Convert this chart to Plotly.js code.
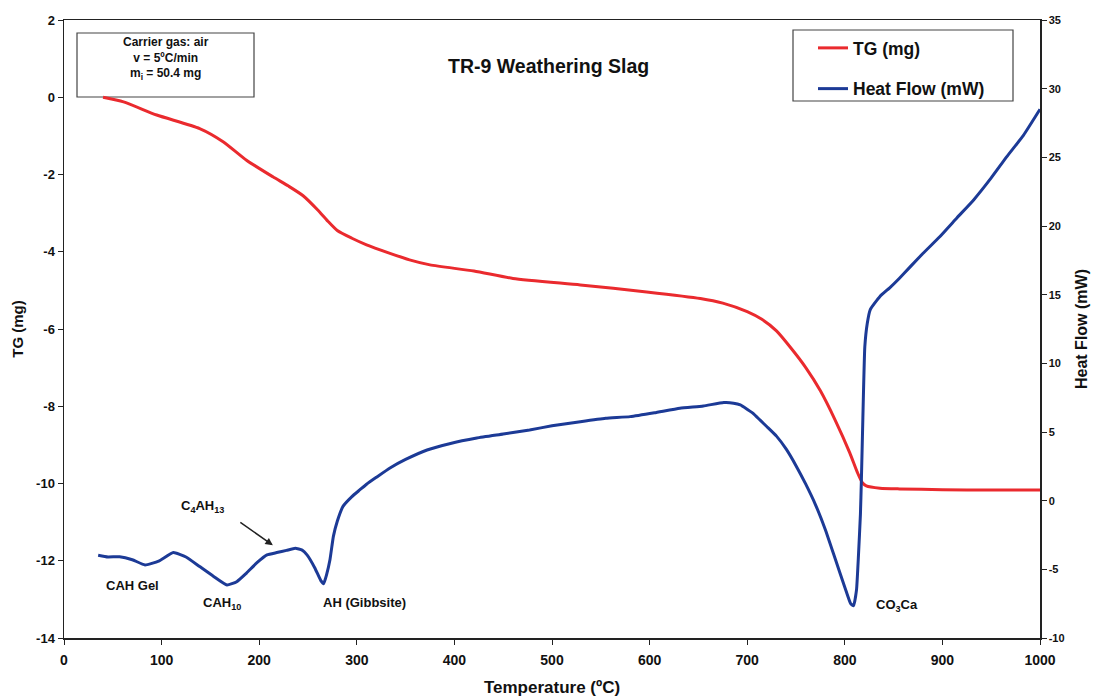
<!DOCTYPE html>
<html>
<head>
<meta charset="utf-8">
<script src="https://cdn.plot.ly/plotly-3.0.1.min.js"></script>
<style>
  html, body { margin: 0; padding: 0; background: #ffffff; }
  #chart { width: 1094px; height: 700px; }
</style>
</head>
<body>
<div id="chart"></div>
<script>
// Thermogravimetric run of the TR-9 weathering slag (heating in air)

// TG curve: temperature (ºC) and mass change (mg)
const tgTemp = [40, 61, 95, 139, 163, 187, 214, 230, 245, 260, 270, 280, 295, 310, 334, 354, 375, 420, 460,
                529, 597, 652, 675, 700, 715, 730, 745, 760, 775, 790, 805, 813, 818, 822, 836, 856, 900, 950, 1000];
const tgMass = [0, -0.12, -0.46, -0.81, -1.15, -1.63, -2.06, -2.3, -2.55, -2.92, -3.2, -3.45, -3.65, -3.82, -4.04, -4.21, -4.34, -4.5, -4.69,
                -4.86, -5.04, -5.21, -5.33, -5.55, -5.75, -6.05, -6.5, -7.0, -7.6, -8.35, -9.2, -9.72, -9.98, -10.06, -10.12, -10.14, -10.16, -10.17, -10.17];

// Heat flow curve: temperature (ºC) and heat flow (mW)
const hfTemp = [35, 45, 57, 70, 83, 97, 112, 125, 139, 153, 167, 177, 187, 198, 208, 218, 228, 237, 244, 249,
                257, 263, 266, 269, 272.5, 276, 280, 286, 295, 303, 310, 320, 334, 350, 372, 395, 423, 450, 477, 500,
                529, 555, 580, 605, 631, 655, 676, 686, 693, 700, 706, 713, 720, 730, 740, 750, 760, 770, 780, 790,
                800, 806, 809, 812, 814, 816, 817, 818.5, 820.5, 823, 826, 836, 846, 856, 866, 880, 897, 915, 932, 950,
                966, 983, 1000];
const hfFlow = [-3.97, -4.1, -4.08, -4.3, -4.68, -4.4, -3.78, -4.1, -4.8, -5.5, -6.14, -5.9, -5.27, -4.5, -3.95, -3.78, -3.62, -3.47, -3.6, -3.95,
                -4.9, -5.8, -6.05, -5.4, -4.3, -2.6, -1.5, -0.4, 0.3, 0.78, 1.2, 1.7, 2.38, 3.0, 3.69, 4.15, 4.56, 4.85, 5.15, 5.45,
                5.75, 6.0, 6.12, 6.4, 6.73, 6.9, 7.14, 7.1, 6.97, 6.65, 6.36, 5.88, 5.4, 4.7, 3.75, 2.55, 1.2, -0.3, -2.1, -4.2,
                -6.3, -7.5, -7.65, -6.5, -4.0, -1.0, 1.5, 6.0, 11.2, 12.9, 13.9, 14.87, 15.5, 16.2, 16.95, 18.0, 19.2, 20.6, 21.9, 23.5,
                25.05, 26.6, 28.5];

// Axis ticks
const tempTicks = [0, 100, 200, 300, 400, 500, 600, 700, 800, 900, 1000];
const tgTicks = [2, 0, -2, -4, -6, -8, -10, -12, -14];
const hfTicks = [35, 30, 25, 20, 15, 10, 5, 0, -5, -10];

// Peak labels: [text, temperature, TG-axis position]
const peakLabels = [
  ['CAH Gel', 70, -12.63],
  ['CAH<sub>10</sub>', 162, -13.1],
  ['AH (Gibbsite)', 308, -13.07],
  ['C<sub>4</sub>AH<sub>13</sub>', 142, -10.6],
  ['CO<sub>3</sub>Ca', 853, -13.15]
];

const FONT = 'Liberation Sans, Arial, sans-serif';
const NARROW = 'Liberation Sans Narrow, Liberation Sans, Arial, sans-serif';
// plain hyphen-minus tick labels
const hyphenLabels = vals => vals.map(v => String(v));

const traces = [
  {
    x: tgTemp, y: tgMass, name: 'TG (mg)', type: 'scatter', mode: 'lines',
    line: { color: '#ea2a2e', width: 3, shape: 'spline', smoothing: 0.6 },
    yaxis: 'y', legendgroup: 'tg'
  },
  {
    x: hfTemp, y: hfFlow, name: 'Heat Flow (mW)', type: 'scatter', mode: 'lines',
    line: { color: '#1c3a96', width: 3, shape: 'spline', smoothing: 0.4 },
    yaxis: 'y2', legendgroup: 'hf'
  }
];

const annotations = peakLabels.map(p => ({
  text: p[0], x: p[1], y: p[2], xref: 'x', yref: 'y', showarrow: false,
  xanchor: 'center', yanchor: 'middle',
  font: { family: FONT, size: 13, color: '#111', weight: 'bold' }
}));

// arrow pointing at the C4AH13 shoulder
annotations.push({
  x: 214, y: -11.6, xref: 'x', yref: 'y', ax: -34, ay: -24, text: '',
  showarrow: true, arrowhead: 2, arrowsize: 1, arrowwidth: 1.5, arrowcolor: '#222'
});

// chart title
annotations.push({
  text: 'TR-9 Weathering Slag', xref: 'paper', yref: 'paper', x: 0.496, y: 0.926,
  xanchor: 'center', yanchor: 'middle', showarrow: false,
  font: { family: FONT, size: 19.5, color: '#111', weight: 'bold' }
});

// run conditions box
annotations.push({
  text: 'Carrier gas: air<br>v = 5ºC/min<br>m<sub>i</sub> = 50.4 mg',
  xref: 'paper', yref: 'paper', x: (166 - 64) / 976, y: (638 - 59) / 618,
  xanchor: 'center', yanchor: 'middle', showarrow: false, align: 'center',
  font: { family: FONT, size: 12, color: '#111', weight: 'bold' }
});

const shapes = [
  { type: 'rect', xref: 'paper', yref: 'paper',
    x0: (77 - 64) / 976, x1: (254 - 64) / 976, y0: (638 - 97) / 618, y1: (638 - 33) / 618,
    line: { color: '#444', width: 1.2 }, fillcolor: '#ffffff', layer: 'below' },
  { type: 'rect', xref: 'paper', yref: 'paper',
    x0: (793 - 64) / 976, x1: (1013 - 64) / 976, y0: (638 - 101) / 618, y1: (638 - 30) / 618,
    line: { color: '#444', width: 1.2 }, fillcolor: '#ffffff', layer: 'below' }
];

const layout = {
  width: 1094, height: 700,
  margin: { l: 64, r: 54, t: 20, b: 62 },
  paper_bgcolor: '#ffffff', plot_bgcolor: '#ffffff',
  font: { family: FONT, color: '#111' },
  showlegend: true,
  legend: {
    x: (813 - 64) / 976, y: (638 - 30) / 618, xanchor: 'left', yanchor: 'top',
    bgcolor: 'rgba(0,0,0,0)', borderwidth: 0, tracegroupgap: 15,
    font: { family: FONT, size: 17.5, color: '#111', weight: 'bold' }
  },
  xaxis: {
    range: [0, 1000], tickvals: tempTicks, ticks: 'outside', ticklen: 5, tickcolor: '#222',
    ticklabelstandoff: 4,
    showgrid: false, zeroline: false, showline: true, linecolor: '#222', linewidth: 1.5, mirror: true,
    tickfont: { family: NARROW, size: 14, color: '#111', weight: 'bold' },
    title: { text: 'Temperature (ºC)', standoff: 14,
             font: { family: NARROW, size: 17, color: '#111', weight: 'bold' } }
  },
  yaxis: {
    range: [-14, 2], tickvals: tgTicks, ticktext: hyphenLabels(tgTicks),
    ticks: 'outside', ticklen: 5, tickcolor: '#222',
    showgrid: false, zeroline: false, showline: true, linecolor: '#222', linewidth: 1.5,
    tickfont: { family: FONT, size: 13, color: '#111', weight: 'bold' },
    title: { text: 'TG (mg)', standoff: 9,
             font: { family: FONT, size: 15, color: '#111', weight: 'bold' } }
  },
  yaxis2: {
    range: [-10, 35], tickvals: hfTicks, ticktext: hyphenLabels(hfTicks),
    overlaying: 'y', side: 'right',
    ticks: 'outside', ticklen: 5, tickcolor: '#222',
    showgrid: false, zeroline: false, showline: true, linecolor: '#222', linewidth: 1.5,
    tickfont: { family: FONT, size: 11, color: '#111', weight: 'bold' },
    title: { text: 'Heat Flow (mW)', standoff: 12,
             font: { family: FONT, size: 16, color: '#111', weight: 'bold' } }
  },
  annotations: annotations,
  shapes: shapes
};

Plotly.newPlot('chart', traces, layout, { displayModeBar: false, staticPlot: true });
</script>
</body>
</html>
